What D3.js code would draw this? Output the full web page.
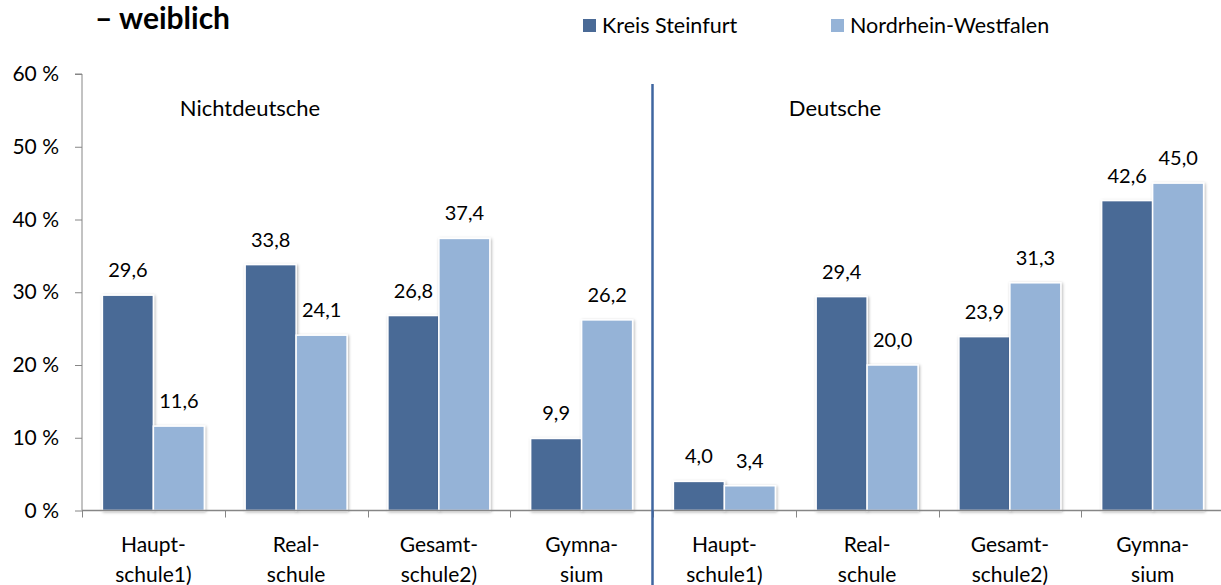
<!DOCTYPE html>
<html>
<head>
<meta charset="utf-8">
<script src="https://cdn.jsdelivr.net/npm/d3@7"></script>
<style>
  body { margin: 0; background: #fff; }
  svg { display: block; font-family: Lato, "Open Sans", sans-serif; }
  .axis path, .axis line { stroke: #868686; }
</style>
</head>
<body>
<svg width="1221" height="585"></svg>
<script>
// Data.
var groups = ["Nichtdeutsche", "Deutsche"]
  , schools = [["Haupt-", "schule1)"], ["Real-", "schule"], ["Gesamt-", "schule2)"], ["Gymna-", "sium"]]
  , series = ["Kreis Steinfurt", "Nordrhein-Westfalen"]
  , kreisValues = [29.6, 33.8, 26.8, 9.9, 4.0, 29.4, 23.9, 42.6]
  , nrwValues = [11.6, 24.1, 37.4, 26.2, 3.4, 20.0, 31.3, 45.0]
  , yTicks = [0, 10, 20, 30, 40, 50, 60]
  , title = "– weiblich"
;

// Configuration parameters.
var margin = { left: 82, right: -3, top: 74, bottom: 74 }
  , width = 1221
  , height = 585
  , colors = ["#4a6a96", "#95b3d7"]
  , groupLabelX = [250, 835]
  , decimal = function (n){ return d3.format(".1f")(n).replace(".", ","); }
;

// Build one row per bar group.
var categories = d3.merge(groups.map(function (g, gi){
    return schools.map(function (s, si){
        var i = gi * schools.length + si;
        return { key: i, group: g, lines: s, values: [kreisValues[i], nrwValues[i]] };
      });
  }));

var svg = d3.select("svg")
  , innerBottom = height - margin.bottom
;

// Scales.
var x = d3.scaleBand()
    .domain(categories.map(function (d){ return d.key; }))
    .range([margin.left, width - margin.right])
  , x1 = d3.scaleBand()
    .domain(d3.range(series.length))
    .range([0, x.bandwidth()])
    .paddingOuter(0.4)
  , y = d3.scaleLinear()
    .domain([0, 60])
    .range([innerBottom - 0.5, margin.top])
;

// Soft shadow for the bars
var shadow = svg.append("defs").append("filter")
    .attr("id", "shadow")
    .attr("x", "-20%").attr("y", "-20%")
    .attr("width", "140%").attr("height", "140%");
shadow.append("feDropShadow")
    .attr("dx", 1).attr("dy", 1)
    .attr("stdDeviation", 1.5)
    .attr("flood-color", "#000")
    .attr("flood-opacity", 0.3);

// Y axis
var yAxisG = svg.append("g")
    .attr("class", "axis")
    .attr("transform", "translate(" + margin.left + ",0)")
    .call(d3.axisLeft(y)
        .tickValues(yTicks)
        .tickSize(7)
        .tickPadding(16)
        .tickFormat(function (d){ return d + " %"; }));
yAxisG.select(".domain").attr("d", "M0," + y(0) + "V" + y(60) + "H-7");
yAxisG.selectAll(".tick text")
    .attr("font-size", 21)
    .attr("fill", "#000")
    .attr("font-family", "Lato, sans-serif");

// Bars
var cat = svg.append("g").selectAll("g")
    .data(categories)
  .enter().append("g")
    .attr("transform", function (d){ return "translate(" + x(d.key) + ",0)"; });

cat.selectAll("rect")
    .data(function (d){ return d.values; })
  .enter().append("rect")
    .attr("x", function (d, i){ return x1(i); })
    .attr("y", function (d){ return y(d); })
    .attr("width", x1.bandwidth())
    .attr("height", function (d){ return y(0) - y(d); })
    .attr("fill", function (d, i){ return colors[i]; })
    .attr("stroke", "#fff")
    .attr("stroke-width", 1.5)
    .attr("filter", "url(#shadow)");

// Value labels
cat.selectAll("text.value")
    .data(function (d){ return d.values; })
  .enter().append("text")
    .attr("class", "value")
    .attr("x", function (d, i){ return x1(i) + x1.bandwidth() / 2; })
    .attr("y", function (d){ return y(d) - 18; })
    .attr("text-anchor", "middle")
    .attr("font-size", 20)
    .text(decimal);

// X axis line with ticks at the band boundaries
var xAxisG = svg.append("g").attr("class", "axis");
xAxisG.append("line")
    .attr("x1", margin.left).attr("x2", width)
    .attr("y1", y(0)).attr("y2", y(0))
    .attr("stroke-width", 1.5);
xAxisG.selectAll("line.tick")
    .data(categories)
  .enter().append("line")
    .attr("class", "tick")
    .attr("x1", function (d){ return Math.round(x(d.key)) + 0.5; })
    .attr("x2", function (d){ return Math.round(x(d.key)) + 0.5; })
    .attr("y1", y(0)).attr("y2", y(0) + 7);

// Category labels
cat.append("text")
    .attr("x", x.bandwidth() / 2)
    .attr("y", y(0) + 41)
    .attr("text-anchor", "middle")
    .attr("font-size", 21)
  .selectAll("tspan")
    .data(function (d){ return d.lines; })
  .enter().append("tspan")
    .attr("x", x.bandwidth() / 2)
    .attr("dy", function (d, i){ return i ? 30 : 0; })
    .text(function (d){ return d; });

// Divider between the two groups
var splitX = x(schools.length) - 0.5;
svg.append("line")
    .attr("x1", splitX).attr("x2", splitX)
    .attr("y1", 84).attr("y2", height)
    .attr("stroke", "#3f66a0")
    .attr("stroke-width", 2.5);

// Group labels
svg.selectAll("text.group")
    .data(groups)
  .enter().append("text")
    .attr("class", "group")
    .attr("x", function (d, i){ return groupLabelX[i]; })
    .attr("y", 116)
    .attr("text-anchor", "middle")
    .attr("font-size", 22)
    .text(function (d){ return d; });

// Title (cut off at the top in the original)
svg.append("text")
    .attr("x", 95)
    .attr("y", 29)
    .attr("font-size", 30)
    .attr("font-weight", "bold")
    .text(title);

// Legend
var legendG = svg.append("g")
    .attr("transform", "translate(583,0)");
var legendItem = legendG.selectAll("g")
    .data(series)
  .enter().append("g")
    .attr("transform", function (d, i){ return "translate(" + (i * 248) + ",0)"; });
legendItem.append("rect")
    .attr("y", 19)
    .attr("width", 13).attr("height", 13)
    .attr("fill", function (d, i){ return colors[i]; });
legendItem.append("text")
    .attr("x", 19)
    .attr("y", 33)
    .attr("font-size", 21.5)
    .text(function (d){ return d; });
</script>
</body>
</html>
